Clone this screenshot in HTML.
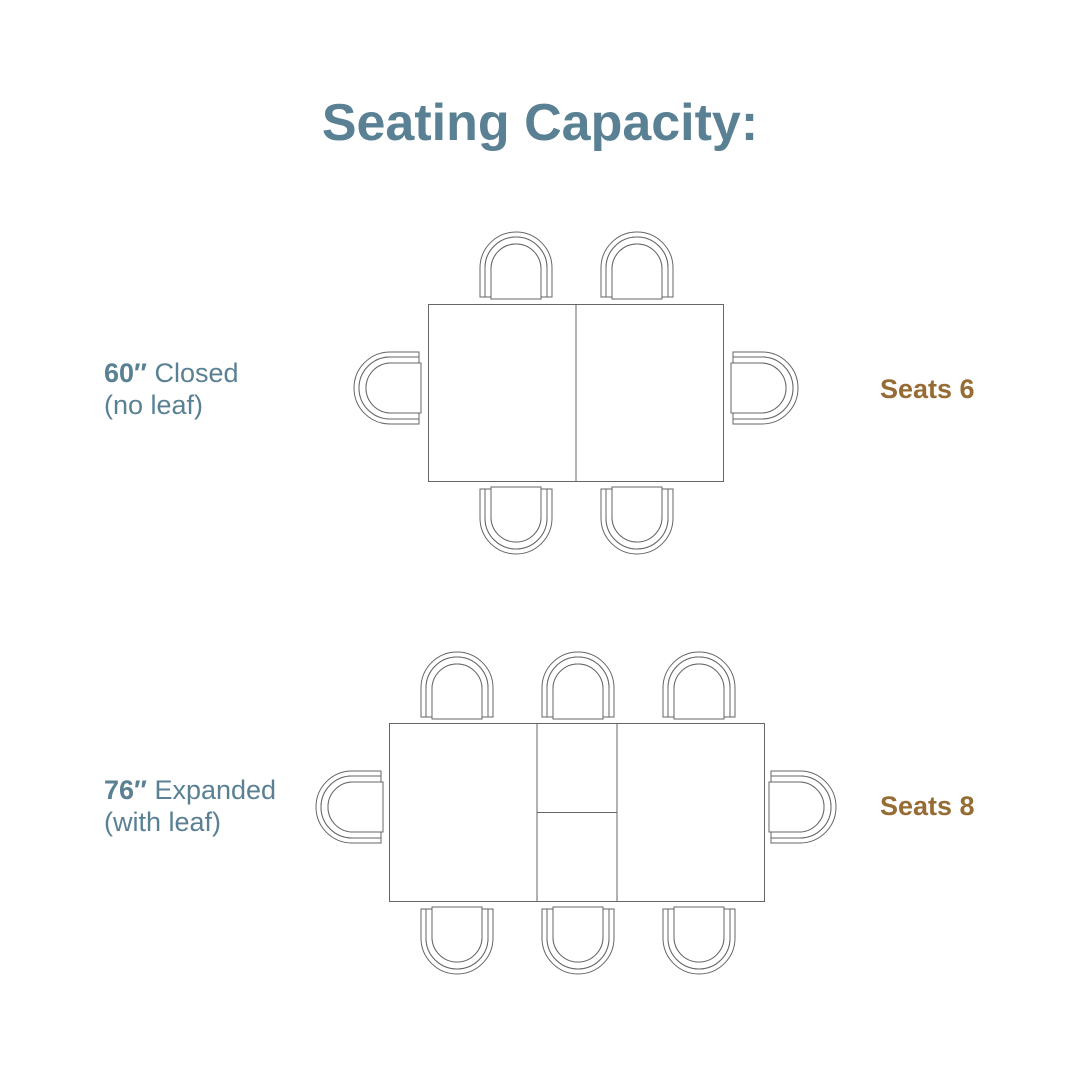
<!DOCTYPE html>
<html><head><style>
body{margin:0;background:#fff;}
svg{display:block}
.t{font-family:"Liberation Sans",sans-serif;}
</style></head><body>
<svg width="1080" height="1080" viewBox="0 0 1080 1080" xmlns="http://www.w3.org/2000/svg">
<defs>
<g id="ch" fill="#fff" stroke="#666" stroke-width="1">
  <path d="M1,66 L1,37 A36,36 0 0 1 73,37 L73,66 L68,66 L68,37 A31,31 0 0 0 6,37 L6,66 Z"/>
  <path d="M6,37 A31,31 0 0 1 68,37 L68,66 L62,66 L62,38 A25,25 0 0 0 12,38 L12,66 L6,66 Z"/>
  <path d="M12,68 L12,38 A25,25 0 0 1 62,38 L62,68 Z"/>
</g>
</defs>
<text class="t" x="540" y="140" text-anchor="middle" font-size="52" font-weight="bold" fill="#5a8094">Seating Capacity:</text>

<rect x="428.5" y="304.5" width="295" height="177" fill="none" stroke="#666"/>
<line x1="576" y1="304" x2="576" y2="482" stroke="#666"/>
<use href="#ch" x="479" y="231"/>
<use href="#ch" x="600" y="231"/>
<use href="#ch" transform="translate(553,555) rotate(180)"/>
<use href="#ch" transform="translate(674,555) rotate(180)"/>
<use href="#ch" transform="translate(353,425) rotate(-90)"/>
<use href="#ch" transform="translate(799,351) rotate(90)"/>

<rect x="389.5" y="723.5" width="375" height="178" fill="none" stroke="#666"/>
<line x1="537" y1="723" x2="537" y2="902" stroke="#666"/>
<line x1="617" y1="723" x2="617" y2="902" stroke="#666"/>
<line x1="537" y1="812.5" x2="617" y2="812.5" stroke="#666"/>
<use href="#ch" x="420" y="651"/>
<use href="#ch" x="541" y="651"/>
<use href="#ch" x="662" y="651"/>
<use href="#ch" transform="translate(494,975) rotate(180)"/>
<use href="#ch" transform="translate(615,975) rotate(180)"/>
<use href="#ch" transform="translate(736,975) rotate(180)"/>
<use href="#ch" transform="translate(315,844) rotate(-90)"/>
<use href="#ch" transform="translate(837,770) rotate(90)"/>

<g class="t" font-size="27" fill="#5a8094">
<text x="104" y="382"><tspan font-weight="bold">60″</tspan> Closed</text>
<text x="104" y="414">(no leaf)</text>
<text x="104" y="799"><tspan font-weight="bold">76″</tspan> Expanded</text>
<text x="104" y="831">(with leaf)</text>
</g>
<g class="t" font-size="27" font-weight="bold" fill="#966b34">
<text x="880" y="398">Seats 6</text>
<text x="880" y="815">Seats 8</text>
</g>
</svg>
</body></html>
